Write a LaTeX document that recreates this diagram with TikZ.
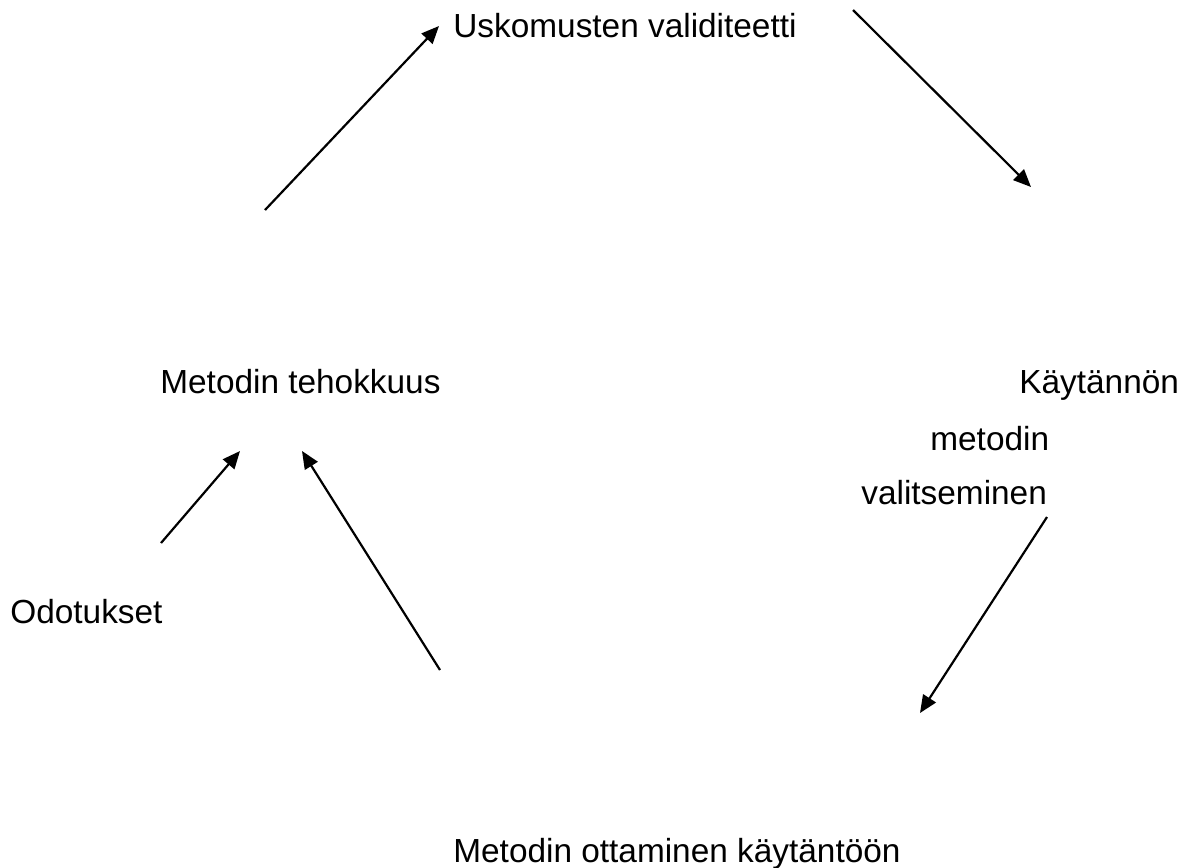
\documentclass[tikz,border=0pt]{standalone}
\usepackage{fontspec}
\setmainfont{Liberation Sans}
\usepackage{tikz}
\usetikzlibrary{positioning, calc, arrows.meta}

\tikzset{
	lbl/.style={anchor=base west, inner sep=0pt, font=\fontsize{19}{23}\selectfont},
	arr/.style={-{Triangle[length=10pt,width=8.5pt]}, line width=1.25pt}
}

\begin{document}
\begin{tikzpicture}[x=0.02cm, y=-0.02cm]
			\useasboundingbox (0,0) rectangle (1182,867);
			\node[lbl] (usko) at (453,37) {Uskomusten validiteetti};
			\node[lbl] (teho) at (160,393) {Metodin tehokkuus};
			\node[lbl] (kay1) at (1019,393) {Käytännön};
			\node[lbl] (kay2) at (930,450) {metodin};
			\node[lbl] (kay3) at (861,504) {valitseminen};
			\node[lbl] (odot) at (10,623) {Odotukset};
			\node[lbl] (otta) at (453,862) {Metodin ottaminen käytäntöön};
			\coordinate (a1s) at (265,210);
			\coordinate (a1e) at (439,26);
			\coordinate (a2s) at (853,10);
			\coordinate (a2e) at (1031,187);
			\coordinate (a3s) at (1047,517);
			\coordinate (a3e) at (920,713);
			\coordinate (a4s) at (161,543);
			\coordinate (a4e) at (240,451);
			\coordinate (a5s) at (440,670);
			\coordinate (a5e) at (302,451);
			\draw[arr] (a1s) -- (a1e);
			\draw[arr] (a2s) -- (a2e);
			\draw[arr] (a3s) -- (a3e);
			\draw[arr] (a4s) -- (a4e);
			\draw[arr] (a5s) -- (a5e);
\end{tikzpicture}
\end{document}
